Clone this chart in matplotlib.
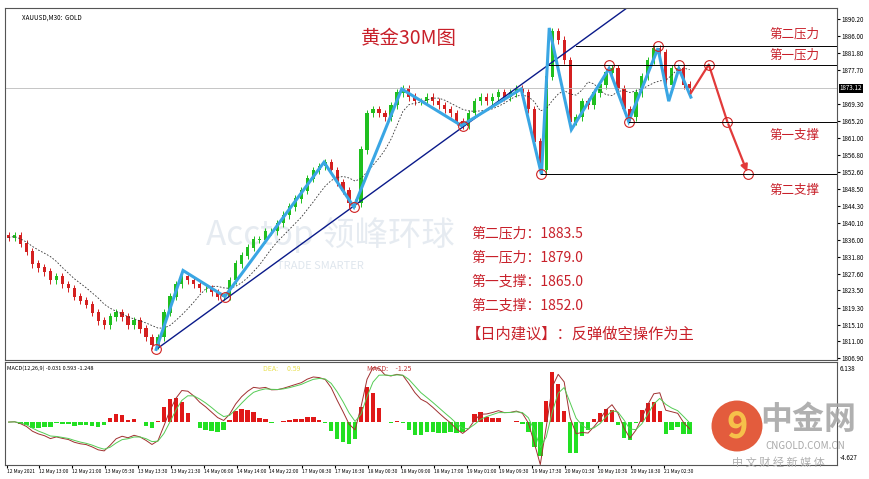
import numpy as np
import pandas as pd
import matplotlib
matplotlib.use('Agg')
import matplotlib.pyplot as plt
from matplotlib.patches import Circle

plt.rcParams['font.family'] = ['Noto Sans CJK SC', 'DejaVu Sans']

#################### DATA ######################
closes = [1836.5, 1837, 1835, 1833, 1830, 1829, 1828, 1826, 1827, 1825,
          1824, 1822, 1821, 1820, 1818, 1816, 1815, 1817, 1818, 1817,
          1815, 1816, 1814, 1812, 1810, 1812, 1818, 1822, 1825, 1827,
          1826, 1825, 1824, 1824, 1823, 1822, 1822, 1826, 1830, 1832,
          1834, 1836, 1836, 1838, 1838, 1840, 1842, 1844, 1846, 1848,
          1851, 1853, 1854, 1855, 1853, 1850, 1848, 1845, 1845, 1858,
          1867, 1868, 1867, 1866, 1869, 1872, 1873, 1871, 1870, 1870,
          1871, 1870, 1869, 1868, 1867, 1865, 1864, 1867, 1870, 1871,
          1870, 1871, 1872, 1871, 1872, 1873, 1872, 1868, 1860, 1853,
          1876, 1887, 1885, 1880, 1865, 1866, 1870, 1869, 1872, 1874,
          1877, 1878, 1873, 1868, 1866, 1872, 1876, 1880, 1883, 1882,
          1874, 1878, 1878, 1874, 1873]
zig_x = [24.7, 29.2, 36.2, 52.8, 57.8, 65.8, 75.8, 85.8, 89.2, 90.5,
         94.2, 100.5, 103.8, 108.7, 110.5, 112.2, 114.2]
zig_y = [1809, 1828.4, 1822, 1855, 1844, 1873, 1864, 1873, 1852, 1888,
         1863, 1878, 1865, 1883, 1870, 1878, 1871]
fc_x = [114.2, 117.2, 120.3, 123.8]
fc_y = [1872, 1879, 1865, 1852]
circ_x = [24.7, 36.2, 57.8, 76.0, 89.2, 100.5, 103.8, 108.7, 112.2, 117.2, 120.3, 123.8]
circ_y = [1809, 1822, 1844, 1864, 1852, 1879, 1865, 1883.5, 1879, 1879, 1865, 1852]
levels = [1883.5, 1879.0, 1865.0, 1852.0]
level_start = [95.0, 90.5, 103.8, 89.2]
price_ticks = [1890.20, 1886.00, 1881.80, 1877.70, 1869.30, 1865.20, 1861.00,
               1856.80, 1852.60, 1848.50, 1844.30, 1840.10, 1836.00, 1831.80,
               1827.60, 1823.50, 1819.30, 1815.10, 1811.00, 1806.90]
time_labels = ['12 May 2021', '12 May 13:00', '12 May 21:00', '13 May 05:30', '13 May 13:30',
               '13 May 21:30', '14 May 06:00', '14 May 14:00', '14 May 22:00', '17 May 08:30',
               '17 May 16:30', '18 May 00:30', '18 May 09:00', '18 May 17:00', '19 May 01:00',
               '19 May 09:30', '19 May 17:30', '20 May 01:30', '20 May 10:30', '20 May 18:30',
               '21 May 02:30']
#########################################################
red = '#c8202a'
closes = np.array(closes, float)
opens = np.r_[closes[0] + 0.5, closes[:-1]]
n = len(closes)
idx = np.arange(n)
highs = np.maximum(opens, closes) + 0.9
lows = np.minimum(opens, closes) - 0.9
cs = pd.Series(closes)
ma = cs.rolling(8, min_periods=1).mean()
ema_f = cs.ewm(span=4).mean()
ema_s = cs.ewm(span=9).mean()
macd = ema_f - ema_s
sig = macd.ewm(span=3).mean()
hist = 2 * (macd - sig)

W, H = 870, 479
fig = plt.figure(figsize=(8.7, 4.79), dpi=100)
x0, x1 = 5 / W, 837 / W
ax = fig.add_axes([x0, 1 - 360 / H, x1 - x0, 352 / H])
axm = fig.add_axes([x0, 1 - 465 / H, x1 - x0, 103 / H])
xl = (-0.6, (837 - 5) / 6.0)
ylo, yhi = 1806.4, 1892.9

for a in (ax, axm):
    a.set_xlim(*xl)
    a.yaxis.tick_right()
    a.tick_params(axis='y', labelsize=4.5, length=2, pad=1)
    for s in a.spines.values():
        s.set_color('#555555')
ax.set_ylim(ylo, yhi)
ax.set_yticks(price_ticks)
ax.set_yticklabels(['%.2f' % p for p in price_ticks])
ax.set_xticks([])

# candles
up = closes >= opens
for i in idx:
    c = '#1fbf1f' if up[i] else '#d42020'
    ax.vlines(i, lows[i], highs[i], color=c, lw=0.7)
    ax.bar(i, abs(closes[i] - opens[i]) + 0.15, bottom=min(opens[i], closes[i]),
           width=0.55, color=c, linewidth=0)
ax.plot(idx, ma, color='#333333', lw=0.6, ls=(0, (2, 2)))

ax.text(33, 1837, 'Acctop 领峰环球', color='#b8c8d8', alpha=0.35, fontsize=24,
        va='center', zorder=0)
ax.text(45, 1829.5, 'TRADE SMARTER', color='#b8c8d8', alpha=0.45, fontsize=8,
        va='center', zorder=0)

ax.axhline(1873.12, color='#bbbbbb', lw=0.6)
ax.text(1.003, (1873.12 - ylo) / (yhi - ylo), '1873.12', transform=ax.transAxes,
        fontsize=4.5, color='white', va='center',
        bbox=dict(facecolor='black', pad=0.5, edgecolor='none'))
ax.plot([24.7, 105.0], [1809, 1894.5], color='#0a1a8a', lw=1.0)
ax.plot(zig_x, zig_y, color='#3aa6e4', lw=2.2, solid_joinstyle='miter')
ax.plot(fc_x[:-1], fc_y[:-1], color='#e23a3a', lw=1.6)
ax.annotate('', xy=(fc_x[-1], fc_y[-1]), xytext=(fc_x[-2], fc_y[-2]),
            arrowprops=dict(arrowstyle='-|>', color='#e23a3a', lw=1.6))
ax.plot(circ_x, circ_y, 'o', ms=7, mfc='none', mec='#d02020', mew=0.8)
for lv, st in zip(levels, level_start):
    ax.plot([st, xl[1]], [lv, lv], color='black', lw=0.7)
ax.text(131.5, 1886.4, '第二压力', color=red, fontsize=9, ha='center', va='center')
ax.text(131.5, 1881.3, '第一压力', color=red, fontsize=9, ha='center', va='center')
ax.text(131.5, 1861.5, '第一支撑', color=red, fontsize=9, ha='center', va='center')
ax.text(131.5, 1848.0, '第二支撑', color=red, fontsize=9, ha='center', va='center')

ax.text(59, 1885.5, '黄金30M图', color=red, fontsize=14, va='center')
ax.text(0.02, 0.985, 'XAUUSD,M30:  GOLD', transform=ax.transAxes, fontsize=4.5, va='top')
rows = ['第二压力：1883.5', '第一压力：1879.0', '第一支撑：1865.0', '第二支撑：1852.0']
for k, r in enumerate(rows):
    ax.text(77.5, 1837.6 - 5.9 * k, r, color=red, fontsize=10, va='center')
ax.text(76.5, 1812.8, '【日内建议】：反弹做空操作为主', color=red, fontsize=11, va='center')

# MACD
cols = np.where(hist >= 0, '#e01818', '#22e022')
axm.bar(idx, hist, width=0.75, color=cols, linewidth=0)
axm.plot(idx, macd, color='#a03030', lw=0.7)
axm.plot(idx, sig, color='#55cc55', lw=0.7)
lim = max(abs(hist).max(), abs(macd).max()) * 1.05
axm.set_ylim(-lim * 0.75, lim * 1.05)
axm.set_yticks([])
axm.text(0.002, 0.97, 'MACD(12,26,9) -0.031 0.593 -1.248', transform=axm.transAxes,
         fontsize=4, va='top')
axm.text(0.31, 0.97, 'DEA:      0.59', transform=axm.transAxes, fontsize=5,
         va='top', color='#e8e050')
axm.text(0.435, 0.97, 'MACD:     -1.25', transform=axm.transAxes, fontsize=5,
         va='top', color='#c03030')
axm.text(1.003, 0.97, '6.138', transform=axm.transAxes, fontsize=4.5, va='top')
axm.text(1.003, 0.03, '-4.627', transform=axm.transAxes, fontsize=4.5, va='bottom')
tpos = [(3 + 33 * k - 5) / 6.0 for k in range(len(time_labels))]
axm.set_xticks(tpos)
axm.set_xticklabels(time_labels, fontsize=3.5, ha='left')
axm.tick_params(axis='x', length=2, pad=1)

# logo
lax = fig.add_axes([711 / W, 1 - 452 / H, 52 / W, 52 / H])
lax.set_aspect('equal')
lax.axis('off')
lax.set_xlim(-1, 1)
lax.set_ylim(-1, 1)
lax.add_patch(Circle((0, 0), 0.98, facecolor='#e04a28', edgecolor='none', alpha=0.9))
lax.text(0, -0.05, '9', fontsize=26, color='#f6c04a', ha='center', va='center',
         fontweight='bold')
fig.text(808 / W, 1 - 420 / H, '中金网', fontsize=23, color='#a8a8a8', ha='center',
         va='center', fontweight='bold', alpha=0.9)
fig.text(805 / W, 1 - 446 / H, 'CNGOLD.COM.CN', fontsize=7, color='#a8a8a8',
         ha='center', va='center')
fig.text(778 / W, 1 - 462 / H, '中 文 财 经 新 媒 体', fontsize=8, color='#b0b0b0',
         ha='center', va='center')

fig.savefig('out.png', dpi=100)
